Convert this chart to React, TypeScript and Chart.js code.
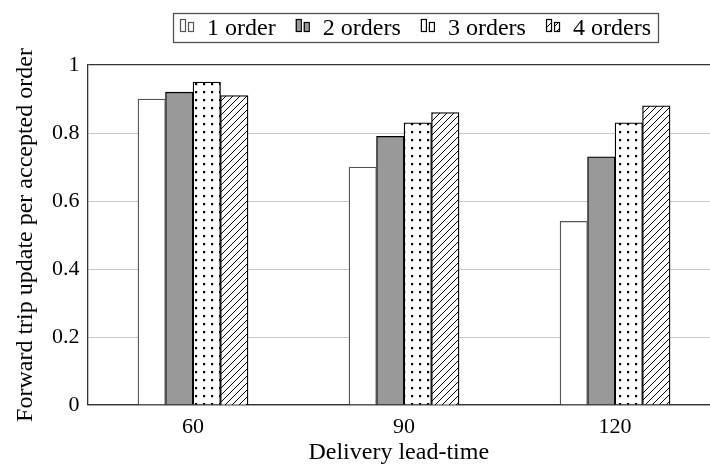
import React, { useEffect, useRef } from 'react';
import { Chart, registerables } from 'chart.js';

Chart.register(...registerables);

// ---- data ----
const categories = ['60', '90', '120'];
const seriesNames = ['1 order', '2 orders', '3 orders', '4 orders'];
const order1 = [0.9, 0.7, 0.54];
const order2 = [0.92, 0.79, 0.73];
const order3 = [0.95, 0.83, 0.83];
const order4 = [0.91, 0.86, 0.88];
const yTicks = [0, 0.2, 0.4, 0.6, 0.8, 1];
const xTitle = 'Delivery lead-time';
const yTitle = 'Forward trip update per accepted order';

const FONT = '"Liberation Serif", serif';
const FS_TICK = 22;
const FS_TEXT = 24;

function dotPattern(): CanvasPattern {
  const c = document.createElement('canvas');
  c.width = 8;
  c.height = 8;
  const g = c.getContext('2d')!;
  g.fillStyle = '#fff';
  g.fillRect(0, 0, 8, 8);
  g.fillStyle = '#000';
  g.fillRect(3, 3, 2.2, 2.2);
  return g.createPattern(c, 'repeat')!;
}

function hatchPattern(): CanvasPattern {
  const s = 7;
  const c = document.createElement('canvas');
  c.width = s;
  c.height = s;
  const g = c.getContext('2d')!;
  g.fillStyle = '#fff';
  g.fillRect(0, 0, s, s);
  g.strokeStyle = '#000';
  g.lineWidth = 1;
  g.beginPath();
  g.moveTo(-1, s + 1);
  g.lineTo(s + 1, -1);
  g.moveTo(-1, 1);
  g.lineTo(1, -1);
  g.moveTo(s - 1, s + 1);
  g.lineTo(s + 1, s - 1);
  g.stroke();
  return g.createPattern(c, 'repeat')!;
}

export default function App() {
  const ref = useRef<HTMLCanvasElement | null>(null);

  useEffect(() => {
    if (!ref.current) return;
    const fills: (string | CanvasPattern)[] = ['#ffffff', '#999999', dotPattern(), hatchPattern()];
    const borders = ['#555555', '#000000', '#000000', '#000000'];
    const seriesValues = [order1, order2, order3, order4];

    const legendPlugin = {
      id: 'boxLegend',
      afterDraw(chart: any) {
        const ctx: CanvasRenderingContext2D = chart.ctx;
        ctx.save();
        ctx.font = `${FS_TEXT}px ${FONT}`;
        const boxL = 173, boxR = 658, boxT = 13, boxB = 42;
        const padX = 7, iconW = 12, iconGap = 15;
        const widths = seriesNames.map((n) => ctx.measureText(n).width);
        const content = widths.reduce((a, b) => a + b, 0) + seriesNames.length * (iconW + iconGap);
        const itemGap = (boxR - boxL - 2 * padX - content) / (seriesNames.length - 1);
        ctx.fillStyle = '#fff';
        ctx.fillRect(boxL, boxT, boxR - boxL, boxB - boxT);
        ctx.strokeStyle = '#555';
        ctx.lineWidth = 1.3;
        ctx.strokeRect(boxL + 0.5, boxT + 0.5, boxR - boxL, boxB - boxT);
        let x = boxL + padX;
        seriesNames.forEach((name, i) => {
          ctx.fillStyle = fills[i] as any;
          ctx.strokeStyle = borders[i];
          ctx.lineWidth = 1.2;
          ctx.fillRect(x, 19, 5, 12);
          ctx.strokeRect(x + 0.5, 19.5, 5, 12);
          ctx.fillRect(x + 8, 22, 5, 9);
          ctx.strokeRect(x + 8.5, 22.5, 5, 9);
          ctx.fillStyle = '#000';
          ctx.textBaseline = 'alphabetic';
          ctx.textAlign = 'left';
          ctx.fillText(name, x + iconW + iconGap, 35);
          x += iconW + iconGap + widths[i] + itemGap;
        });
        ctx.restore();
      },
    };

    const chart = new Chart(ref.current, {
      type: 'bar',
      data: {
        datasets: seriesValues.map((vals, i) => ({
          label: seriesNames[i],
          data: vals.map((v, j) => ({ x: j, y: v })),
          backgroundColor: fills[i] as any,
          borderColor: borders[i],
          borderWidth: 1.3,
          barThickness: 27.5,
        })),
      },
      options: {
        animation: false,
        responsive: false,
        devicePixelRatio: 1,
        layout: { padding: { top: 65, left: 0, right: 0, bottom: 0 } },
        plugins: { legend: { display: false }, tooltip: { enabled: false } },
        scales: {
          x: {
            type: 'linear',
            min: -0.5,
            max: 2.45,
            offset: false,
            afterBuildTicks: (s: any) => {
              s.ticks = categories.map((_, i) => ({ value: i }));
            },
            afterFit: (s: any) => {
              s.height = 66;
            },
            ticks: {
              callback: (v: any) => categories[v as number] ?? '',
              font: { family: FONT, size: FS_TICK },
              color: '#000',
              padding: 9,
              maxRotation: 0,
              autoSkip: false,
            },
            grid: { display: false, drawTicks: false },
            border: { display: true, color: '#333', width: 1.3 },
            title: {
              display: true,
              text: xTitle,
              color: '#000',
              font: { family: FONT, size: FS_TEXT },
              padding: { top: 0, bottom: 4 },
            },
          },
          y: {
            min: 0,
            max: 1,
            afterBuildTicks: (s: any) => {
              s.ticks = yTicks.map((v) => ({ value: v }));
            },
            afterFit: (s: any) => {
              s.width = 87.5;
            },
            ticks: {
              callback: (v: any) => String(v),
              font: { family: FONT, size: FS_TICK },
              color: '#000',
              padding: 8,
            },
            grid: {
              drawTicks: false,
              color: (c: any) => (c.tick && (c.tick.value === 0 || c.tick.value === 1) ? '#333' : '#c8c8c8'),
              lineWidth: (c: any) => (c.tick && (c.tick.value === 0 || c.tick.value === 1) ? 1.3 : 1),
            },
            border: { display: true, color: '#333', width: 1.3 },
            title: {
              display: true,
              text: yTitle,
              color: '#000',
              font: { family: FONT, size: FS_TEXT },
              padding: { top: 11, bottom: 0 },
            },
          },
        },
      },
      plugins: [legendPlugin],
    } as any);
    return () => chart.destroy();
  }, []);

  return (
    <canvas
      ref={ref}
      width={710}
      height={471}
      style={{ position: 'fixed', left: 0, top: 0, width: 710, height: 471 }}
    />
  );
}
